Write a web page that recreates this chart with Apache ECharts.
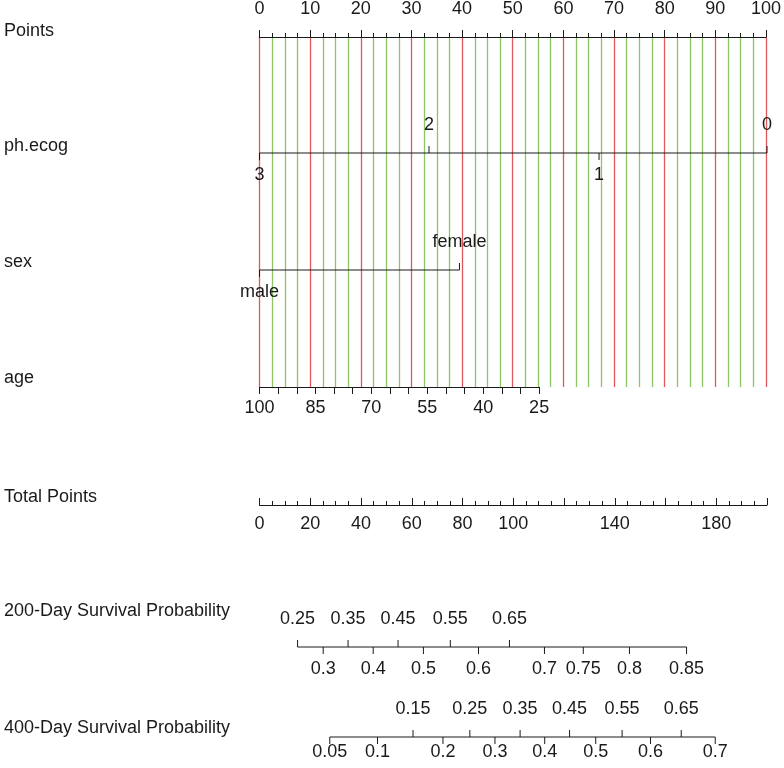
<!DOCTYPE html>
<html><head><meta charset="utf-8">
<script src="https://cdn.jsdelivr.net/npm/echarts@6/dist/echarts.min.js"></script>
<style>html,body{margin:0;padding:0;background:#fff}#c{width:784px;height:768px}</style>
</head><body><div id="c"></div>
<script>
// ---------------- data ----------------
const rowNames = ['Points', 'ph.ecog', 'sex', 'age', 'Total Points', '200-Day Survival Probability', '400-Day Survival Probability'];
const pointsMax = 100;
const pointsStep = 10;
const phEcogLevels = ['3', '2', '1', '0'];
const phEcogPoints = [0, 33.4, 66.9, 100];
const phEcogAbove = ['2', '0'];
const sexLevels = ['male', 'female'];
const sexPoints = [0, 39.4];
const sexAbove = ['female'];
const ageLabels = [100, 85, 70, 55, 40, 25];
const ageTickStep = 5;
const agePointsAtYoungest = 55.1;
const totalLabels = [0, 20, 40, 60, 80, 100, 140, 180];
const totalMax = 200;
const totalStep = 20;
const surv200Values = ['0.25', '0.3', '0.35', '0.4', '0.45', '0.5', '0.55', '0.6', '0.65', '0.7', '0.75', '0.8', '0.85'];
const surv200Points = [15.0, 25.1, 34.9, 44.8, 54.6, 64.6, 75.2, 86.3, 98.5, 112.3, 127.6, 145.8, 168.3];
const surv200Above = ['0.25', '0.35', '0.45', '0.55', '0.65'];
const surv400Values = ['0.05', '0.1', '0.15', '0.2', '0.25', '0.3', '0.35', '0.4', '0.45', '0.5', '0.55', '0.6', '0.65', '0.7'];
const surv400Points = [27.7, 46.5, 60.5, 72.3, 82.9, 92.8, 102.7, 112.4, 122.2, 132.5, 142.9, 154.1, 166.2, 179.6];
const surv400Above = ['0.15', '0.25', '0.35', '0.45', '0.55', '0.65'];

// ---------------- layout / style ----------------
const FONT = 'Liberation Sans, Arial, Helvetica, sans-serif';
const FS = 18;
const TXT = '#1a1a1a';
const AX = '#1a1a1a';
const RED = '#e0585e';
const GREEN = '#8cc466';
const LEFT = 259.5, WIDTH = 507.5;
const Y = { points: 37, varBottom: 387, ph: 153, sex: 270, age: 387, total: 505, s200: 647, s400: 737 };
const nameY = [31, 146, 262, 378, 497, 611, 728];
const TICK = 7, ABOVE_OFF = 28, BELOW_OFF = 22;

const ageMax = Math.max(...ageLabels), ageMin = Math.min(...ageLabels);

function scaleSeries(xAxisIndex, values, pts, above, rowY, belowOff) {
  return [{
    type: 'line', xAxisIndex, yAxisIndex: 1, silent: true, animation: false,
    symbol: 'none', lineStyle: { color: AX, width: 1 }, z: 5,
    data: [[Math.min(...pts), rowY], [Math.max(...pts), rowY]]
  }, {
    type: 'custom', xAxisIndex, yAxisIndex: 1, silent: true, animation: false, z: 6,
    data: pts.map((p, i) => [p, rowY, i]),
    renderItem: function (params, api) {
      const i = api.value(2);
      const c = api.coord([api.value(0), api.value(1)]);
      const up = above.includes(values[i]);
      const dir = up ? -1 : 1;
      return {
        type: 'group', children: [
          { type: 'line', shape: { x1: c[0], y1: c[1], x2: c[0], y2: c[1] + dir * TICK }, style: { stroke: AX, lineWidth: 1 } },
          { type: 'text', style: { text: values[i], x: c[0], y: c[1] + (up ? -ABOVE_OFF : (belowOff || BELOW_OFF)), align: 'center', verticalAlign: 'middle', font: FS + 'px ' + FONT, fill: TXT } }
        ]
      };
    }
  }];
}

const chart = echarts.init(document.getElementById('c'), null, { renderer: 'canvas' });
const option = {
  animation: false,
  backgroundColor: '#fff',
  grid: [
    { left: LEFT, width: WIDTH, top: Y.points, height: Y.varBottom - Y.points },
    { left: LEFT, width: WIDTH, top: 0, height: 768 },
    { left: LEFT, width: WIDTH, top: Y.total - 1, height: 1 },
    { left: LEFT, width: WIDTH * agePointsAtYoungest / pointsMax, top: Y.age - 1, height: 1 }
  ],
  xAxis: [
    { gridIndex: 0, type: 'value', position: 'top', min: 0, max: pointsMax, interval: pointsStep,
      axisLine: { show: true, onZero: false, lineStyle: { color: AX, width: 1 } },
      axisTick: { show: true, length: TICK, lineStyle: { color: AX } },
      minorTick: { show: true, splitNumber: 4, length: 4, lineStyle: { color: AX } },
      axisLabel: { fontSize: FS, fontFamily: FONT, color: TXT, margin: 19 },
      splitLine: { show: true, showMinLine: true, showMaxLine: true, lineStyle: { color: RED, width: 1.3 } },
      minorSplitLine: { show: true, lineStyle: { color: GREEN, width: 1.3 } } },
    { gridIndex: 1, type: 'value', min: 0, max: pointsMax, show: false },
    { gridIndex: 1, type: 'value', min: 0, max: totalMax, show: false },
    { gridIndex: 2, type: 'value', position: 'bottom', min: 0, max: totalMax, interval: totalStep,
      axisLine: { show: true, onZero: false, lineStyle: { color: AX, width: 1 } },
      axisTick: { show: true, inside: true, length: TICK, lineStyle: { color: AX } },
      minorTick: { show: true, splitNumber: 4, length: 4, lineStyle: { color: AX } },
      axisLabel: { fontSize: FS, fontFamily: FONT, color: TXT, margin: 10, showMaxLabel: true,
        formatter: v => totalLabels.includes(v) ? String(v) : '' },
      splitLine: { show: false } },
    { gridIndex: 3, type: 'value', position: 'bottom', min: 0, max: ageMax - ageMin, interval: ageLabels[0] - ageLabels[1],
      axisLine: { show: true, onZero: false, lineStyle: { color: AX, width: 1 } },
      axisTick: { show: true, length: TICK, lineStyle: { color: AX } },
      minorTick: { show: true, splitNumber: (ageLabels[0] - ageLabels[1]) / ageTickStep, length: TICK, lineStyle: { color: AX } },
      axisLabel: { fontSize: FS, fontFamily: FONT, color: TXT, margin: 12, showMinLabel: true, showMaxLabel: true,
        formatter: v => String(ageMax - v) },
      splitLine: { show: false } }
  ],
  yAxis: [
    { gridIndex: 0, type: 'value', min: 0, max: 1, show: false },
    { gridIndex: 1, type: 'value', min: 0, max: 768, inverse: true, show: false },
    { gridIndex: 2, type: 'value', min: 0, max: 1, show: false },
    { gridIndex: 3, type: 'value', min: 0, max: 1, show: false }
  ],
  graphic: rowNames.map((n, i) => ({
    type: 'text', left: 4, top: nameY[i] - FS / 2, silent: true,
    style: { text: n, font: FS + 'px ' + FONT, fill: TXT }
  })),
  series: [
    ...scaleSeries(1, phEcogLevels, phEcogPoints, phEcogAbove, Y.ph),
    ...scaleSeries(1, sexLevels, sexPoints, sexAbove, Y.sex),
    ...scaleSeries(2, surv200Values, surv200Points, surv200Above, Y.s200),
    ...scaleSeries(2, surv400Values, surv400Points, surv400Above, Y.s400, 15)
  ]
};
chart.setOption(option);
</script>
</body></html>
